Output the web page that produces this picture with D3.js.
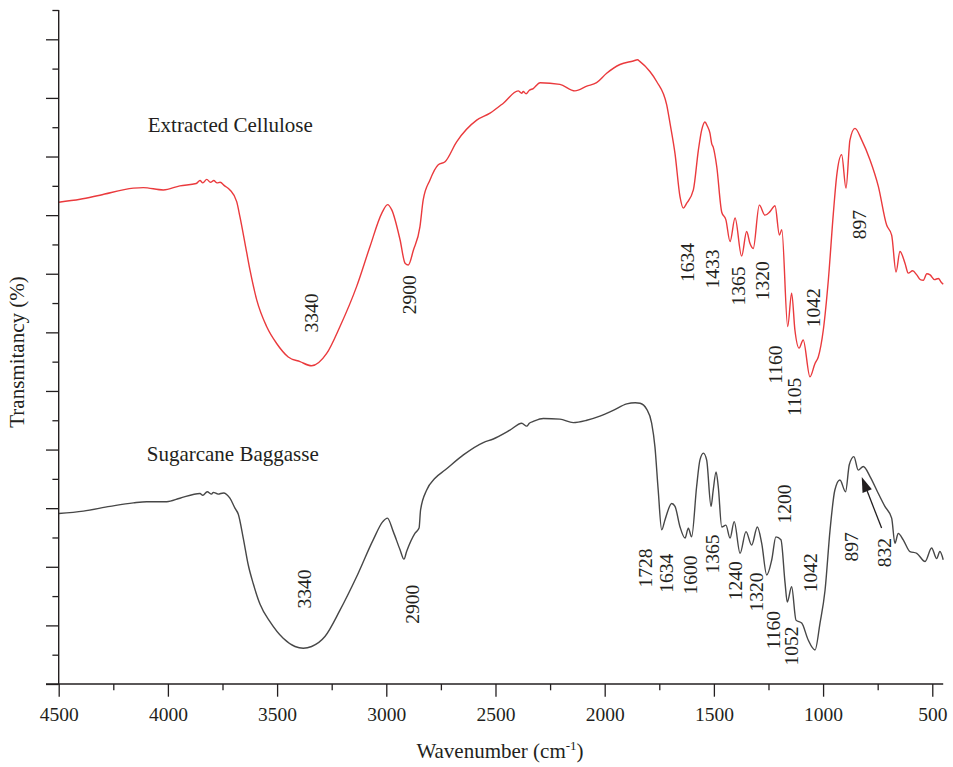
<!DOCTYPE html>
<html>
<head>
<meta charset="utf-8">
<script src="https://cdn.jsdelivr.net/npm/d3@7"></script>
<style>
  html, body { margin: 0; padding: 0; background: #fff; }
  svg { display: block; }
  text { font-family: "Liberation Serif", "DejaVu Serif", serif; fill: #231f20; }
</style>
</head>
<body>
<svg id="chart" width="953" height="767"></svg>
<script>
// ---------- data ----------
const xTicksMajor = [4500, 4000, 3500, 3000, 2500, 2000, 1500, 1000, 500];
const xTicksMinor = [4250, 3750, 3250, 2750, 2250, 1750, 1250, 750];
const xTickLabels = ["4500", "4000", "3500", "3000", "2500", "2000", "1500", "1000", "500"];

// Extracted Cellulose: [wavenumber, transmittance (a.u.)]
const celluloseSpectrum = [
  [4500,82.2],[4402,82.7],[4311,83.4],[4158,84.6],[4113,84.7],[4021,84.3],[3945,85.0],
  [3870,85.4],[3853,85.9],[3840,85.5],[3822,86.1],[3805,85.6],[3790,85.9],[3775,85.5],[3761,85.6],
  [3740,85.0],[3716,84.3],[3685,82.3],[3670,79.7],[3647,75.2],[3624,70.6],[3593,65.5],[3548,61.0],
  [3502,58.1],[3449,55.8],[3395,55.0],[3342,54.3],[3273,56.4],[3212,61.0],[3136,67.8],[3075,74.6],
  [3021,80.3],[2994,81.8],[2975,80.9],[2937,75.8],[2914,71.8],[2899,71.5],[2876,74.0],[2846,78.0],
  [2831,82.6],[2800,86.0],[2762,88.6],[2731,89.1],[2678,92.5],[2586,96.2],[2525,97.4],[2464,99.1],
  [2396,101.2],[2380,100.8],[2373,101.1],[2360,100.7],[2345,101.3],[2327,101.6],[2296,102.6],
  [2205,102.3],[2136,101.2],[2082,102.0],[2037,102.6],[1991,104.2],[1930,105.7],[1869,106.3],
  [1850,106.5],[1838,106.2],[1793,104.5],[1762,102.8],[1716,98.8],[1701,95.7],[1678,90.5],[1655,83.1],
  [1640,81.2],[1625,82.0],[1594,84.3],[1571,91.1],[1556,94.5],[1541,95.9],[1530,95.2],[1518,94.0],
  [1510,92.2],[1503,91.6],[1487,88.3],[1464,80.5],[1445,79.2],[1426,75.5],[1403,79.5],[1373,73.0],
  [1350,77.2],[1335,75.2],[1320,74.3],[1292,81.7],[1266,80.0],[1243,80.6],[1220,81.6],[1200,76.6],
  [1189,77.5],[1162,61.0],[1144,66.7],[1129,60.4],[1110,57.3],[1091,58.7],[1060,52.4],[1037,54.7],
  [1022,55.8],[999,60.4],[976,68.9],[953,80.3],[938,86.6],[915,90.3],[895,84.6],[877,92.8],[854,94.8],
  [823,92.8],[785,89.4],[747,84.9],[709,78.3],[686,76.6],[666,70.3],[648,73.8],[625,71.8],[610,70.1],
  [590,70.5],[571,69.8],[555,69.0],[541,68.9],[525,70.0],[510,69.8],[490,69.0],[472,69.2],[460,68.6],[450,68.2]
];

// Sugarcane Baggasse: [wavenumber, transmittance (a.u.)]
const bagasseSpectrum = [
  [4500,29.1],[4387,29.5],[4265,30.3],[4158,30.9],[4097,31.1],[4005,31.1],[3945,31.7],
  [3853,32.5],[3840,32.2],[3820,32.8],[3800,32.4],[3792,32.7],[3770,32.4],[3746,32.6],
  [3716,31.7],[3693,30.0],[3678,29.0],[3655,24.9],[3632,20.3],[3609,17.1],[3578,13.6],[3532,10.6],
  [3472,7.8],[3418,6.4],[3380,6.1],[3342,6.4],[3281,8.1],[3212,12.6],[3136,18.3],[3060,24.6],[3016,27.7],
  [2995,28.3],[2968,26.0],[2937,22.9],[2919,21.3],[2907,22.6],[2869,25.7],[2850,26.6],[2843,29.7],
  [2815,33.1],[2777,35.1],[2731,36.5],[2647,39.1],[2556,41.2],[2510,41.8],[2434,43.3],[2380,44.5],
  [2357,44.0],[2345,44.5],[2327,44.8],[2281,45.3],[2205,45.2],[2144,44.6],[2082,45.0],[2022,45.7],
  [1961,46.7],[1899,47.8],[1860,48.0],[1838,47.9],[1808,46.9],[1785,44.5],[1770,40.5],[1755,33.1],
  [1739,26.3],[1724,28.0],[1693,30.8],[1678,30.3],[1655,26.8],[1632,24.9],[1617,26.6],[1602,25.1],
  [1579,33.7],[1564,38.2],[1548,39.4],[1533,38.2],[1513,30.3],[1503,33.1],[1490,36.2],[1480,33.7],
  [1464,26.8],[1445,27.1],[1426,24.9],[1407,27.7],[1380,22.3],[1353,26.0],[1327,23.7],[1301,26.8],
  [1281,24.0],[1258,18.6],[1235,21.2],[1216,25.1],[1193,24.6],[1174,17.2],[1164,14.0],[1144,16.6],
  [1124,10.9],[1098,10.4],[1068,7.5],[1037,5.8],[1014,10.4],[991,16.0],[968,26.3],[946,33.1],
  [923,34.8],[897,32.8],[880,37.4],[859,38.8],[839,36.5],[816,37.1],[785,35.4],[747,32.5],
  [717,30.3],[686,28.3],[671,24.0],[656,25.7],[633,24.6],[602,22.6],[571,22.3],[533,20.9],
  [503,23.2],[480,21.4],[465,22.6],[450,21.2]
];

// Peak annotations: [label, wavenumber position, transmittance position]
const celluloseLabels = [
  ["3340",3342,63.3],["2900",2896,66.4],["1634",1622,71.9],["1433",1505,70.8],
  ["1365",1386,67.9],["1320",1276,68.8],["1042",1045,64.2],["1160",1220,54.5],
  ["1105",1129,49.0],["897",834,78.4]
];
const bagasseLabels = [
  ["3340",3375,16.2],["2900",2879,13.6],["1728",1815,19.8],["1634",1716,18.9],
  ["1600",1606,18.6],["1365",1505,22.2],["1240",1403,17.6],["1320",1304,15.7],
  ["1160",1225,9.2],["1052",1144,6.5],["1200",1178,30.7],["1042",1057,19.0],
  ["897",869,23.4],["832",720,22.4]
];
// arrow for 832 band: [tail wavenumber, tail value, tip wavenumber, tip value]
const arrow832 = [732, 26.6, 823, 35.3];

const seriesNames = ["Extracted Cellulose", "Sugarcane Baggasse"];
const seriesNamePos = [[4092, 94.1], [4097, 38.0]];
const yTicks = d3.range(0, 116, 5);

// ---------- drawing ----------
const svg = d3.select("#chart");
const x = d3.scaleLinear().domain([4500, 450]).range([58.7, 943.2]);
const y = d3.scaleLinear().domain([0, 115]).range([684, 10]);
const ink = "#231f20";
const numSize = 19.5;
const wordSize = 21;

// curves
const line = d3.line().x(d => x(d[0])).y(d => y(d[1])).curve(d3.curveMonotoneX);
svg.append("path").datum(celluloseSpectrum).attr("d", line)
  .attr("fill", "none").attr("stroke", "#ea3a3d").attr("stroke-width", 1.4).attr("stroke-linejoin", "round");
svg.append("path").datum(bagasseSpectrum).attr("d", line)
  .attr("fill", "none").attr("stroke", "#474747").attr("stroke-width", 1.4).attr("stroke-linejoin", "round");

// x axis
const xMajor = d3.axisBottom(x).tickValues(xTicksMajor).tickSize(12.7)
  .tickFormat((d, i) => xTickLabels[i]).tickPadding(10);
const gx = svg.append("g").attr("transform", `translate(0,${y(0)})`).call(xMajor);
const xMinor = d3.axisBottom(x).tickValues(xTicksMinor).tickSize(6.3).tickFormat("");
const gx2 = svg.append("g").attr("transform", `translate(0,${y(0)})`).call(xMinor);
[gx, gx2].forEach(g => {
  g.select(".domain").remove();
  g.selectAll(".tick line").attr("stroke", ink).attr("stroke-width", 1.3);
});
gx.selectAll(".tick text").attr("fill", ink).style("font-size", numSize + "px")
  .style("font-family", "Liberation Serif, serif");
svg.append("line").attr("x1", x(4500) - 12.7).attr("x2", x(450))
  .attr("y1", y(0)).attr("y2", y(0)).attr("stroke", ink).attr("stroke-width", 1.4);

// y axis
const yAxis = d3.axisLeft(y).tickValues(yTicks).tickFormat("")
  .tickSizeInner(0).tickSizeOuter(0);
const gy = svg.append("g").attr("transform", `translate(${x(4500)},0)`).call(yAxis);
gy.select(".domain").remove();
gy.selectAll(".tick line").attr("x2", d => (d % 10 === 0 ? -12.7 : -6.3))
  .attr("stroke", ink).attr("stroke-width", 1.3);
svg.append("line").attr("x1", x(4500)).attr("x2", x(4500))
  .attr("y1", y(0)).attr("y2", y(115)).attr("stroke", ink).attr("stroke-width", 1.4);

// axis titles
svg.append("text").attr("transform", `translate(24,352) rotate(-90)`)
  .attr("text-anchor", "middle").style("font-size", wordSize + "px").text("Transmitancy (%)");
const xt = svg.append("text").attr("x", 500).attr("y", 758).attr("text-anchor", "middle")
  .style("font-size", wordSize + "px");
xt.append("tspan").text("Wavenumber (cm");
xt.append("tspan").attr("dy", -8).style("font-size", "13px").text("-1");
xt.append("tspan").attr("dy", 8).text(")");

// series names
seriesNames.forEach((n, i) => {
  svg.append("text").attr("x", x(seriesNamePos[i][0])).attr("y", y(seriesNamePos[i][1]))
    .style("font-size", wordSize + "px").text(n);
});

// peak labels
function drawLabels(arr) {
  arr.forEach(([t, w, v]) => {
    svg.append("text")
      .attr("transform", `translate(${x(w)},${y(v)}) rotate(-90)`)
      .attr("text-anchor", "middle").attr("dominant-baseline", "central")
      .style("font-size", numSize + "px").text(t);
  });
}
drawLabels(celluloseLabels);
drawLabels(bagasseLabels);

// arrow
const [tw, tv, hw, hv] = arrow832;
const x1 = x(tw), y1 = y(tv), x2 = x(hw), y2 = y(hv);
const ang = Math.atan2(y2 - y1, x2 - x1);
const headLen = 15, headW = 5;
const bx = x2 - headLen * Math.cos(ang), by = y2 - headLen * Math.sin(ang);
svg.append("line").attr("x1", x1).attr("y1", y1).attr("x2", bx).attr("y2", by)
  .attr("stroke", ink).attr("stroke-width", 1.3);
svg.append("path").attr("d",
  `M${x2},${y2} L${bx + headW * Math.sin(ang)},${by - headW * Math.cos(ang)} L${bx - headW * Math.sin(ang)},${by + headW * Math.cos(ang)} Z`)
  .attr("fill", ink);
</script>
</body>
</html>
